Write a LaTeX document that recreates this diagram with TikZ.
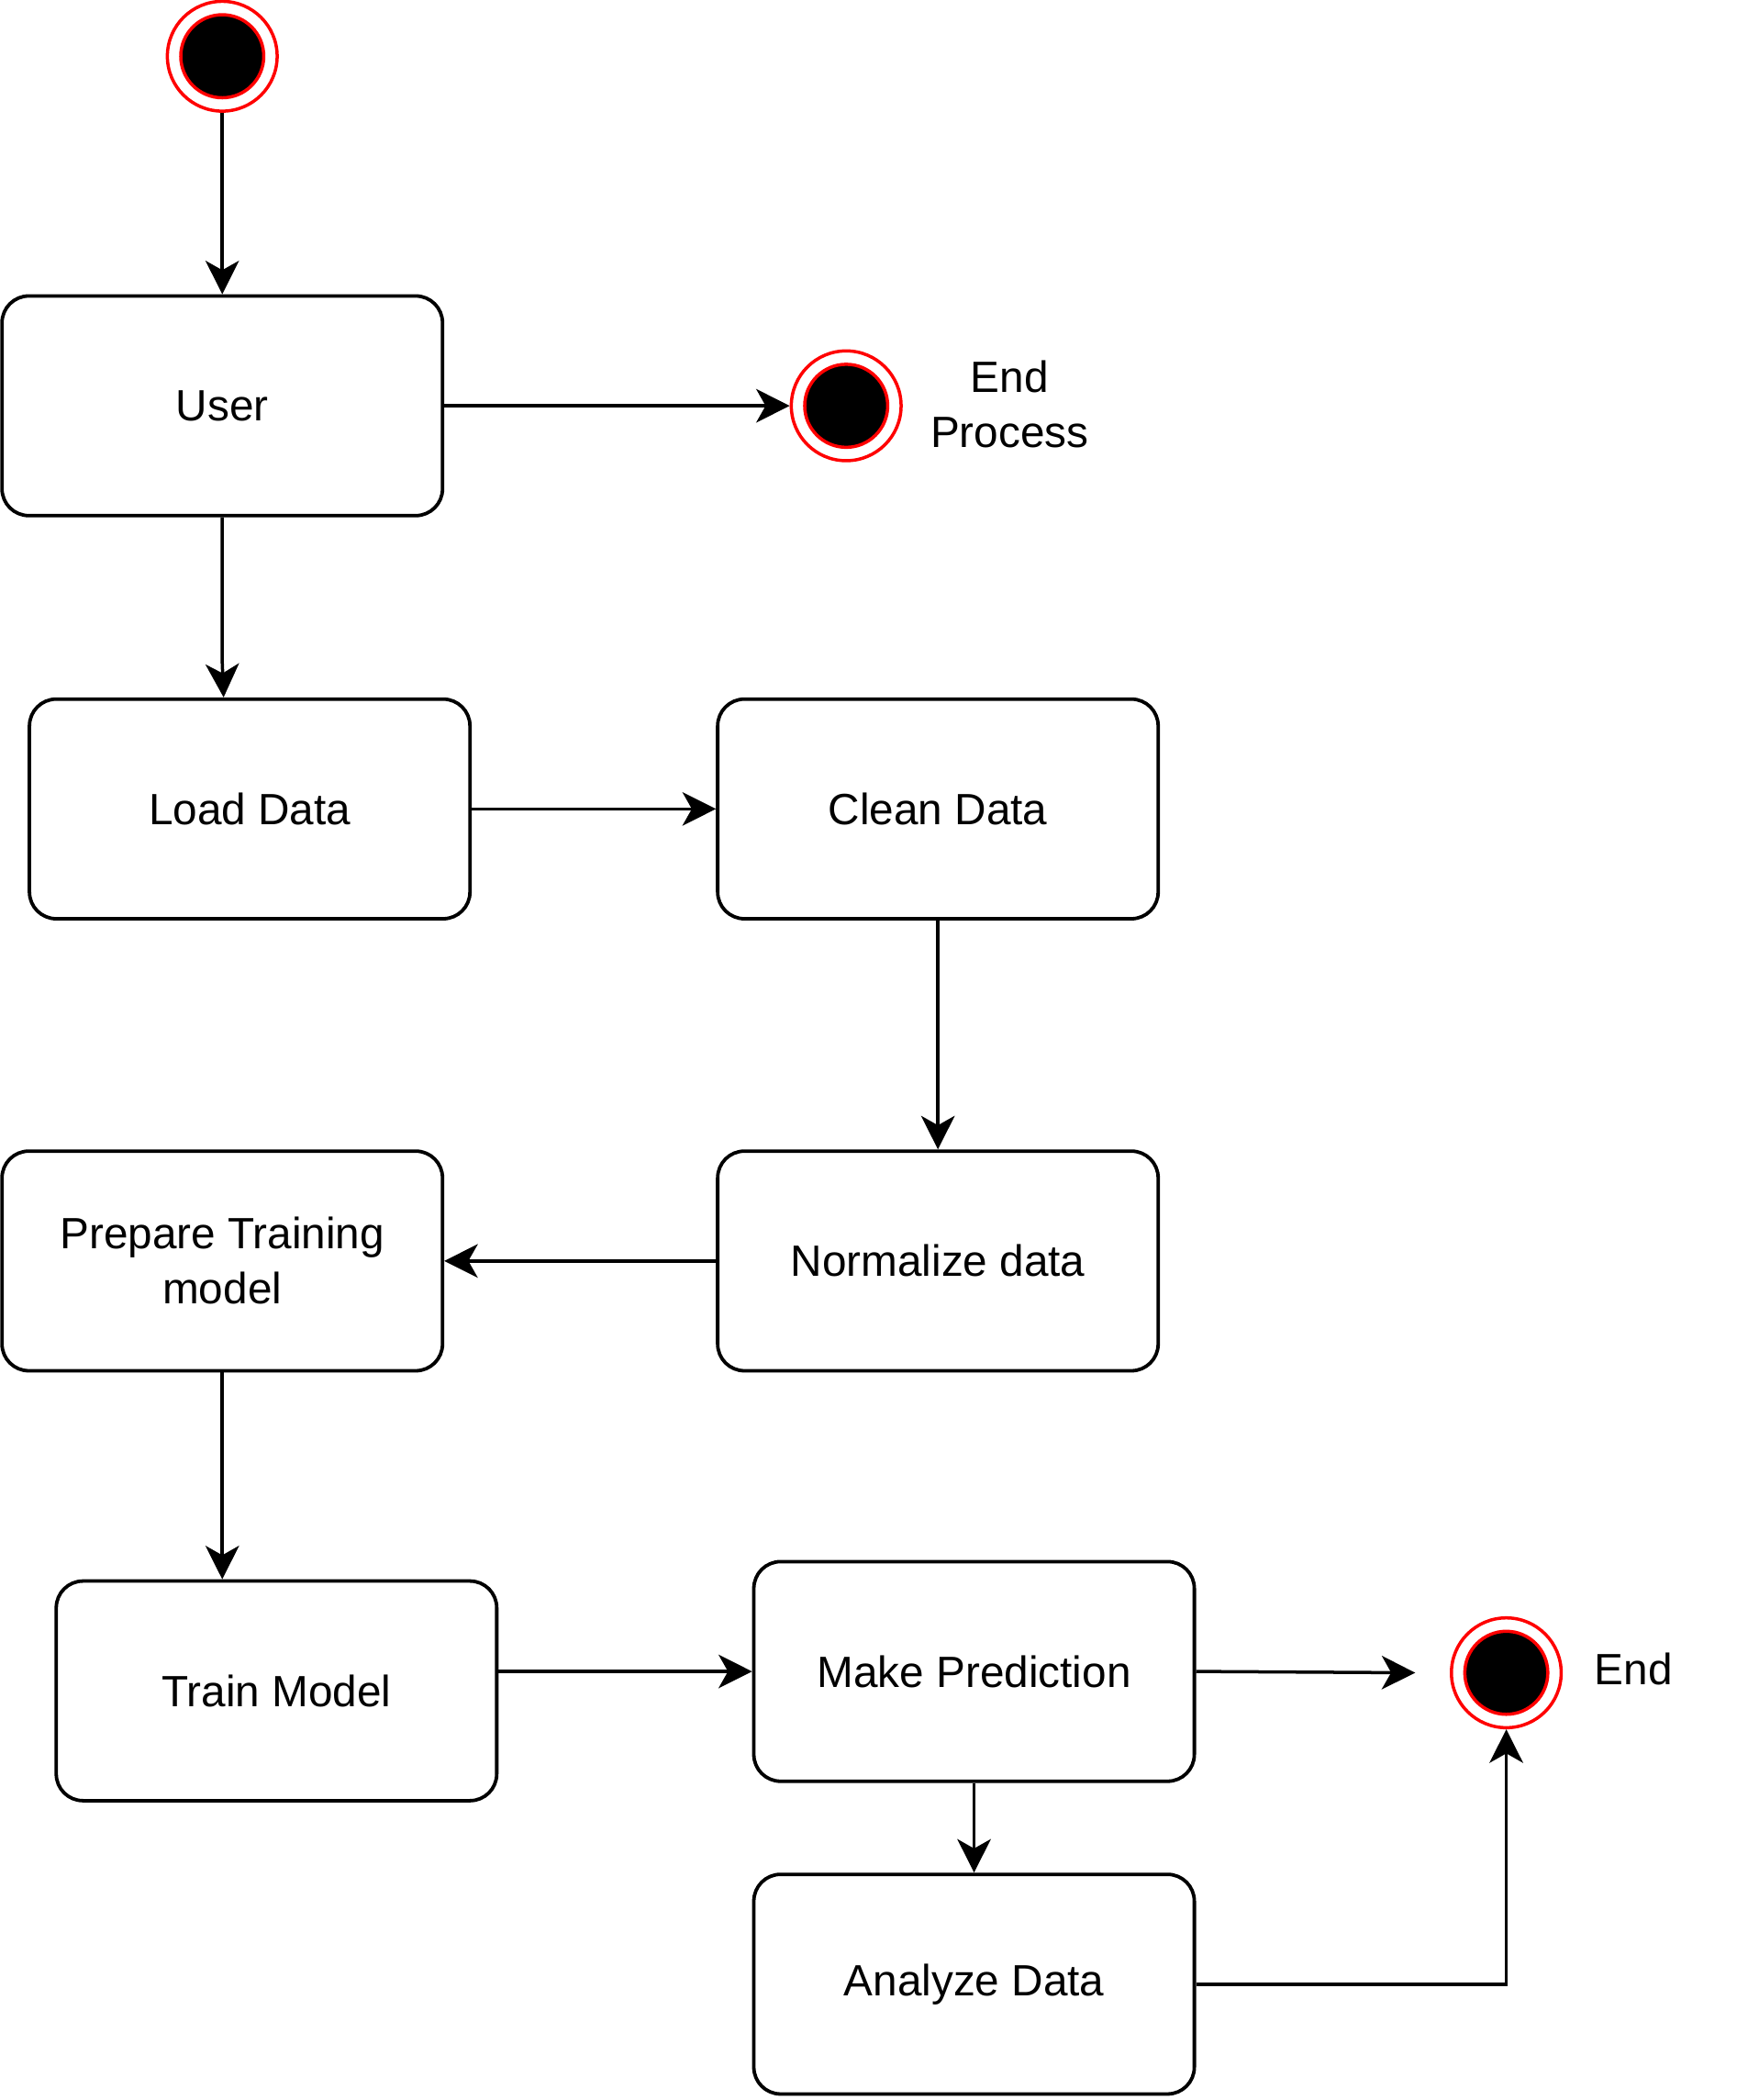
\documentclass[tikz,border=0pt]{standalone}
\usepackage{fontspec}
\setmainfont{Liberation Sans}
\usetikzlibrary{arrows.meta}
\begin{document}
\begin{tikzpicture}[x=1pt, y=-1pt,
    >={Stealth[length=25pt, width=25pt, inset=7pt]},
    box/.style={draw, line width=2.6pt, rounded corners=20pt, minimum width=329pt,
        minimum height=164pt, align=center, font=\fontsize{32.7}{41}\selectfont},
    ring/.style={circle, draw=red, line width=2.4pt, fill=white, minimum size=82pt, inner sep=0pt},
    dot/.style={circle, draw=red, line width=2.4pt, fill=black, minimum size=62pt, inner sep=0pt},
    lbl/.style={align=center, font=\fontsize{32.7}{41}\selectfont},
    flow/.style={->, line width=2.4pt}]
        \useasboundingbox (0,0) rectangle (1305,1568);
        % Nodes
        \node[ring] (start) at (166, 42) {};
        \node[dot] (startdot) at (166, 42) {};
        \node[box] (user) at (166, 303) {User};
        \node[ring] (stop) at (632, 303) {};
        \node[dot] (stopdot) at (632, 303) {};
        \node[lbl] (stoptext) at (754, 302) {End\\Process};
        \node[box] (load) at (186.5, 604) {Load Data};
        \node[box] (clean) at (700.5, 604) {Clean Data};
        \node[box] (prep) at (166, 941.5) {Prepare Training\\model};
        \node[box] (norm) at (700.5, 941.5) {Normalize data};
        \node[box] (train) at (206.5, 1262.5) {Train Model};
        \node[box] (make) at (727.5, 1248) {Make Prediction};
        \node[box] (analyze) at (727.5, 1481.5) {Analyze Data};
        \node[ring] (fin) at (1125, 1249) {};
        \node[dot] (findot) at (1125, 1249) {};
        \node[lbl] (fintext) at (1220, 1246) {End};
        \coordinate (finin) at (1057, 1249);

        % Arrows
        \draw[flow] (start) -- (user);
        \draw[flow] (user.east) -- (463, 303) -- (stop.west);
        \draw[flow] (user.south) -- (166, 495) -- (load.north -| 167, 0);
        \draw[flow] (load) -- (clean);
        \draw[flow] (clean) -- (norm);
        \draw[flow] (norm) -- (prep);
        \draw[flow] (prep) -- (prep |- train.north);
        \draw[flow] (train.east |- make) -- (make.west);
        \draw[flow] (make.east) -- (finin);
        \draw[flow] (make) -- (analyze);
        \draw[flow] (analyze.east) -| (fin.south);
\end{tikzpicture}
\end{document}
